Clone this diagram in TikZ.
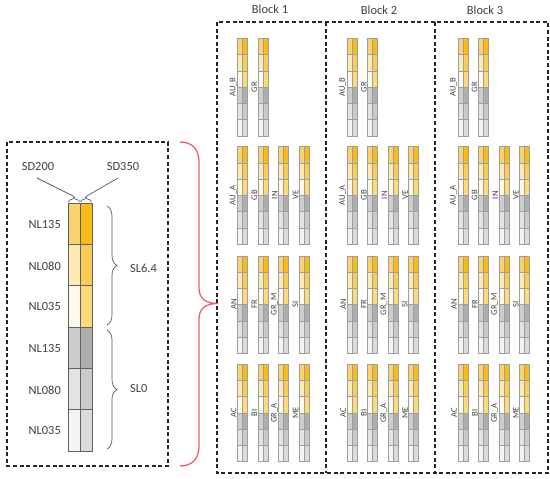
\documentclass[tikz,border=0pt]{standalone}
\usepackage{fontspec}
\setmainfont{Carlito}
\usetikzlibrary{decorations.pathreplacing}
\definecolor{yA1}{HTML}{F8D36F}
\definecolor{yB1}{HTML}{F8BC15}
\definecolor{yA2}{HTML}{FDE9B3}
\definecolor{yB2}{HTML}{F9CD55}
\definecolor{yA3}{HTML}{FFF9EC}
\definecolor{yB3}{HTML}{FCDA78}
\definecolor{gA1}{HTML}{CDCDCD}
\definecolor{gB1}{HTML}{AEAEAE}
\definecolor{gA2}{HTML}{E3E3E3}
\definecolor{gB2}{HTML}{CACACA}
\definecolor{gA3}{HTML}{F4F4F4}
\definecolor{gB3}{HTML}{DBDBDB}
\definecolor{redb}{HTML}{F0606A}
\definecolor{txt}{HTML}{404040}
\tikzset{
  dashbox/.style={draw=black!85, line width=1.3pt, dash pattern=on 4pt off 2.6pt},
  bigcell/.style={draw=black!62, line width=0.7pt},
  minicell/.style={draw=black!38, line width=0.4pt},
  lbl/.style={font=\fontsize{12.4}{14}\selectfont, text=txt, inner sep=0pt},
  minilbl/.style={font=\fontsize{8.6}{10}\selectfont, text=txt, inner sep=0pt, rotate=90, anchor=south},
  greybrace/.style={draw=black!65, line width=0.7pt, decorate, decoration={brace, amplitude=#1}},
  thinline/.style={draw=black!65, line width=0.7pt},
  redbrace/.style={draw=redb, line width=1.3pt},
}
\newcommand{\cellstrip}[5]{%
  \foreach \k/\ca/\cb in {0/yA1/yB1,1/yA2/yB2,2/yA3/yB3,3/gA1/gB1,4/gA2/gB2,5/gA3/gB3}{%
    \fill[fill=\ca] (#1,{#2+\k*#4}) rectangle ({#1+#3/2},{#2+\k*#4+#4});
    \fill[fill=\cb] ({#1+#3/2},{#2+\k*#4}) rectangle ({#1+#3},{#2+\k*#4+#4});
  }
  \foreach \k in {1,...,5}{\draw[#5] (#1,{#2+\k*#4}) -- ({#1+#3},{#2+\k*#4});}
  \draw[#5] ({#1+#3/2},#2) -- ({#1+#3/2},{#2+6*#4});
  \draw[#5] (#1,#2) rectangle ({#1+#3},{#2+6*#4});
}
\begin{document}
\begin{tikzpicture}[x=1pt,y=-1pt]
\useasboundingbox (0,0) rectangle (550,479);
% ---------- left legend ----------
\draw[dashbox] (7,142) rectangle (168,466);
\cellstrip{68}{203}{24}{41.33}{bigcell}
\node[lbl] (sd200) at (38,167) {SD200};
\node[lbl] (sd350) at (123,167) {SD350};
\draw[greybrace=5pt] (68.5,202) -- (79.5,202);
\draw[greybrace=5pt] (80.5,202) -- (91.5,202);
\coordinate (tip1) at (74,196.5);
\coordinate (tip2) at (86,196.5);
\coordinate (sdl1) at (37,178);
\coordinate (sdl2) at (118,178);
\draw[thinline] (sdl1) -- (tip1);
\draw[thinline] (sdl2) -- (tip2);
\node[lbl, anchor=east] (nl1) at (61,225) {NL135};
\node[lbl, anchor=east] (nl2) at (61,266) {NL080};
\node[lbl, anchor=east] (nl3) at (61,307) {NL035};
\node[lbl, anchor=east] (nl4) at (61,349) {NL135};
\node[lbl, anchor=east] (nl5) at (61,390) {NL080};
\node[lbl, anchor=east] (nl6) at (61,431) {NL035};
\draw[greybrace=10pt] (107,206) -- (107,325);
\draw[greybrace=10pt] (107,330) -- (107,449);
\node[lbl, anchor=west] (sl64) at (130,268) {SL6.4};
\node[lbl, anchor=west] (sl0) at (130,389) {SL0};
% ---------- red brace ----------
\draw[redbrace] (180,142) .. controls (193,142) and (199,150) .. (199,162) -- (199,288)
  .. controls (199,298) and (205,303.5) .. (218,303.5)
  .. controls (205,303.5) and (199,309) .. (199,319) -- (199,446)
  .. controls (199,458) and (193,466) .. (180,466);
% ---------- blocks ----------
\draw[dashbox] (217,22) rectangle (548,473);
\draw[dashbox] (326,22) -- (326,473);
\draw[dashbox] (435,22) -- (435,473);
\node[lbl] (blk1) at (270,9) {Block 1};
\node[lbl] (blk2) at (379,10) {Block 2};
\node[lbl] (blk3) at (485,10) {Block 3};
\foreach \bx [count=\b] in {237.3,346.8,457.7}{
  \foreach \lab [count=\c from 0] in {AU\_B,GR}{
    \cellstrip{\bx+\c*20.6}{38.3}{10}{16.25}{minicell}
    \node[minilbl] (la\b-\c) at ({\bx+\c*20.6-0.6},{38.3+48.75}) {\lab};
  }
  \foreach \lab [count=\c from 0] in {AU\_A,GB,IN,VE}{
    \cellstrip{\bx+\c*20.6}{146.5}{10}{16.25}{minicell}
    \node[minilbl] (lb\b-\c) at ({\bx+\c*20.6-0.6},{146.5+48.75}) {\lab};
  }
  \foreach \lab [count=\c from 0] in {AN,FR,GR\_M,SI}{
    \cellstrip{\bx+\c*20.6}{255.7}{10}{16.25}{minicell}
    \node[minilbl] (lc\b-\c) at ({\bx+\c*20.6-0.6},{255.7+48.75}) {\lab};
  }
  \foreach \lab [count=\c from 0] in {AC,BI,GR\_A,ME}{
    \cellstrip{\bx+\c*20.6}{364}{10}{16.25}{minicell}
    \node[minilbl] (ld\b-\c) at ({\bx+\c*20.6-0.6},{364+48.75}) {\lab};
  }
}
\end{tikzpicture}
\end{document}
